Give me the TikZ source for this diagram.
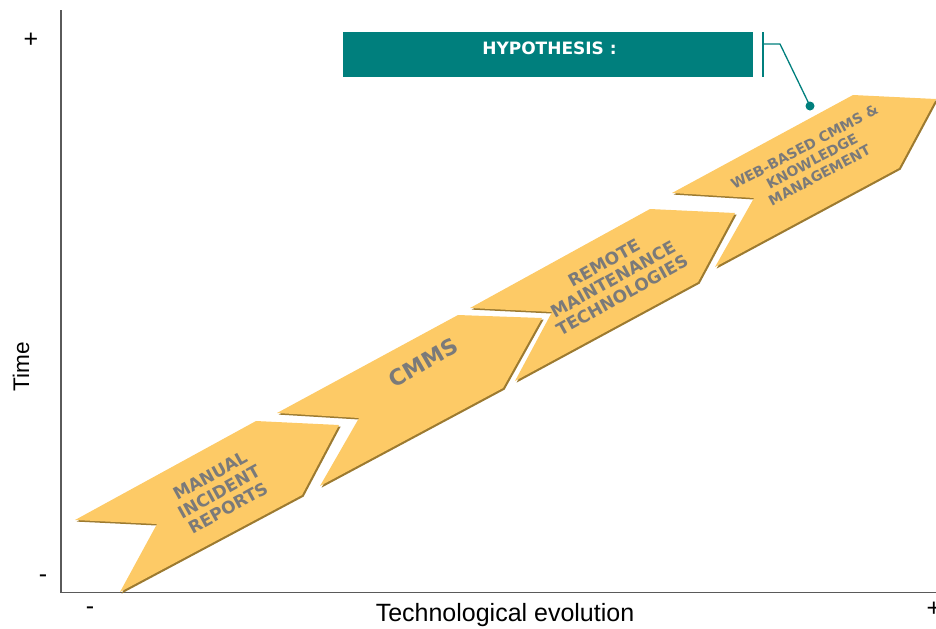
\documentclass[tikz,border=0pt]{standalone}
\usepackage{fontspec}
\setmainfont{Liberation Sans}
\newfontfamily\verd{DejaVu Sans}
\definecolor{chevfill}{HTML}{FDCA66}
\definecolor{chevshade}{HTML}{9C7A30}
\definecolor{tealc}{HTML}{007F7D}
\definecolor{labgray}{HTML}{7A7A7A}
\definecolor{axisgray}{HTML}{5A5A5A}
\begin{document}
\begin{tikzpicture}[x=0.5pt,y=-0.5pt,
  chevron/.style={fill=chevfill},
  chevshadow/.style={fill=chevshade, shift={(1.6,1.6)}},
  chevbase/.style={text=labgray, align=center, inner sep=0pt},
  chevtext/.style={chevbase, font=\verd\bfseries\fontsize{8.5}{9.3}\selectfont, rotate=29},
  smalltext/.style={chevbase, font=\verd\bfseries\fontsize{7}{8}\selectfont, rotate=28},
  bigtext/.style={chevbase, font=\verd\bfseries\fontsize{11}{12}\selectfont, rotate=30},
  axisline/.style={draw=axisgray, line width=0.75pt},
  axislabel/.style={font=\fontsize{12.5}{14}\selectfont, inner sep=0pt, text=black},
  hypbox/.style={fill=tealc, minimum width=205pt, minimum height=22.5pt, inner sep=0pt},
  hyptext/.style={text=white, font=\verd\bfseries\fontsize{8.5}{10}\selectfont, inner sep=0pt},
  callout/.style={draw=tealc, line width=0.65pt},
  calldot/.style={fill=tealc}
]
\useasboundingbox (0,0) rectangle (936,628);

% axes
\coordinate (ytop) at (61,10);
\coordinate (origin) at (61,592.5);
\coordinate (xend) at (936,592.5);
\draw[axisline] (ytop) -- (origin) -- (xend);

\node[axislabel] (yplus) at (31,40) {+};
\node[axislabel] (yminus) at (43,579) {-};
\node[axislabel] (xminus) at (90,611) {-};
\node[axislabel] (xplus) at (934,609) {+};
\node[axislabel, font=\fontsize{11.3}{13}\selectfont, rotate=90] (ylab) at (21,367) {Time};
\node[axislabel, anchor=base] (xlab) at (505,621) {Technological evolution};

% chevrons: shadows
\fill[chevshadow] (75,520) -- (256,421) -- (339,425) -- (302,495) -- (120,592) -- (157,524) -- cycle;
\fill[chevshadow] (277,413) -- (458,315) -- (542,318) -- (503,388) -- (320,486) -- (359,418) -- cycle;
\fill[chevshadow] (470,308) -- (650,209) -- (735,213) -- (698,282) -- (515,381) -- (552,312) -- cycle;
\fill[chevshadow] (672,193) -- (853,95) -- (936,99) -- (899,168) -- (715,267) -- (754,198) -- cycle;
% chevrons: fills
\fill[chevron] (75,520) -- (256,421) -- (339,425) -- (302,495) -- (120,592) -- (157,524) -- cycle;
\fill[chevron] (277,413) -- (458,315) -- (542,318) -- (503,388) -- (320,486) -- (359,418) -- cycle;
\fill[chevron] (470,308) -- (650,209) -- (735,213) -- (698,282) -- (515,381) -- (552,312) -- cycle;
\fill[chevron] (672,193) -- (853,95) -- (936,99) -- (899,168) -- (715,267) -- (754,198) -- cycle;

% chevron labels
\node[chevtext] (manual) at (219,492) {MANUAL\\INCIDENT\\REPORTS};
\node[bigtext] (cmms) at (423,363) {CMMS};
\node[chevtext] (remote) at (613,279) {REMOTE\\MAINTENANCE\\TECHNOLOGIES};
\node[smalltext] (web) at (812,161) {WEB-BASED CMMS \&\\KNOWLEDGE\\MANAGEMENT};

% hypothesis callout
\node[hypbox] (hyp) at (548,54.5) {};
\node[hyptext] (hyptxt) at (549.5,48) {HYPOTHESIS :};
\coordinate (brT) at (763,32);
\coordinate (brB) at (763,77);
\coordinate (brM) at (763,44);
\coordinate (elbow) at (780,44);
\coordinate (dot) at (810,106);
\draw[callout] (brT) -- (brB);
\draw[callout] (brM) -- (elbow) -- (dot);
\fill[calldot] (dot) circle (4.5);
\end{tikzpicture}
\end{document}
